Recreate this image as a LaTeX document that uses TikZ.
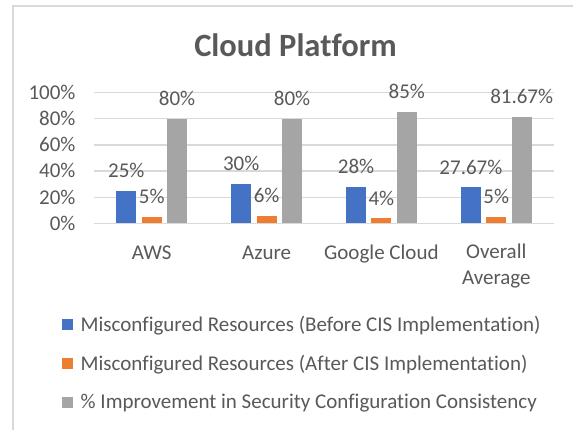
\documentclass[tikz,border=0pt]{standalone}
\usepackage{fontspec}
\setmainfont{Carlito}[Ligatures=NoCommon]
\usepackage{tikz}
\definecolor{txtgray}{HTML}{595959}
\definecolor{gridgray}{HTML}{D9D9D9}
\definecolor{before}{HTML}{4472C4}
\definecolor{after}{HTML}{ED7D31}
\definecolor{improve}{HTML}{A5A5A5}
\newcommand{\lblfont}{\fontsize{21}{25.4}\selectfont}
\tikzset{
  lbl/.style={font=\lblfont, text=txtgray, inner sep=0pt},
  num/.style={lbl, text height=13.5pt, text depth=0pt},
  gridln/.style={draw=gridgray, line width=1.3pt},
  frameln/.style={draw=gridgray, line width=2pt},
  ttl/.style={font=\fontsize{32.5}{38}\selectfont\bfseries, text=txtgray, inner sep=0pt},
}

\begin{document}
\begin{tikzpicture}[x=1pt, y=-1pt]
  \fill[white] (0,0) rectangle (573,430);
  \useasboundingbox (0,0) rectangle (573,430);
  \draw[frameln] (13,430) -- (13,6) -- (573,6);
  \node[ttl] (title) at (295.5,45.5) {Cloud Platform};
  % value axis
  \foreach \p in {0,20,...,100} {
    \draw[gridln] (94.3,{223.5-1.31*\p}) -- (553.7,{223.5-1.31*\p});
    \node[num, anchor=east] (t\p) at (75.7,{223.5-1.31*\p}) {\p\%};
  }
  % bars and values
  \foreach \c/\a/\b/\g/\n in {151.7/25/5/80/aws, 266.6/30/6/80/azr, 381.4/28/4/85/gcp, 496.3/27.67/5/81.67/avg} {
    \fill[before] ({\c-35.4},223.5) rectangle ({\c-15.4},{223.5-1.31*\a});
    \fill[after] ({\c-10},223.5) rectangle ({\c+10},{223.5-1.31*\b});
    \fill[improve] ({\c+15.4},223.5) rectangle ({\c+35.4},{223.5-1.31*\g});
    \node[num] (\n-a) at ({\c-25.4},{203.5-1.31*\a}) {\a\%};
    \node[num] (\n-b) at (\c,{203.5-1.31*\b}) {\b\%};
    \node[num] (\n-g) at ({\c+25.4},{203.5-1.31*\g}) {\g\%};
  }
  % categories
  \node[num] (c1) at (151.7,252.3) {AWS};
  \node[num] (c2) at (266.6,252.3) {Azure};
  \node[num] (c3) at (381.4,252.3) {Google Cloud};
  \node[lbl, align=center] (c4) at (496.3,266) {Overall\\Average};
  % legend
  \foreach \y/\col/\txt/\n in {324.5/before/{Misconfigured Resources (Before CIS Implementation)}/lg1,
      363.3/after/{Misconfigured Resources (After CIS Implementation)}/lg2,
      402.1/improve/{\% Improvement in Security Configuration Consistency}/lg3} {
    \fill[\col] (62.3,{\y-5.5}) rectangle (73.3,{\y+5.5});
    \node[num, anchor=west] (\n) at (80.5,\y) {\txt};
  }
\end{tikzpicture}
\end{document}
